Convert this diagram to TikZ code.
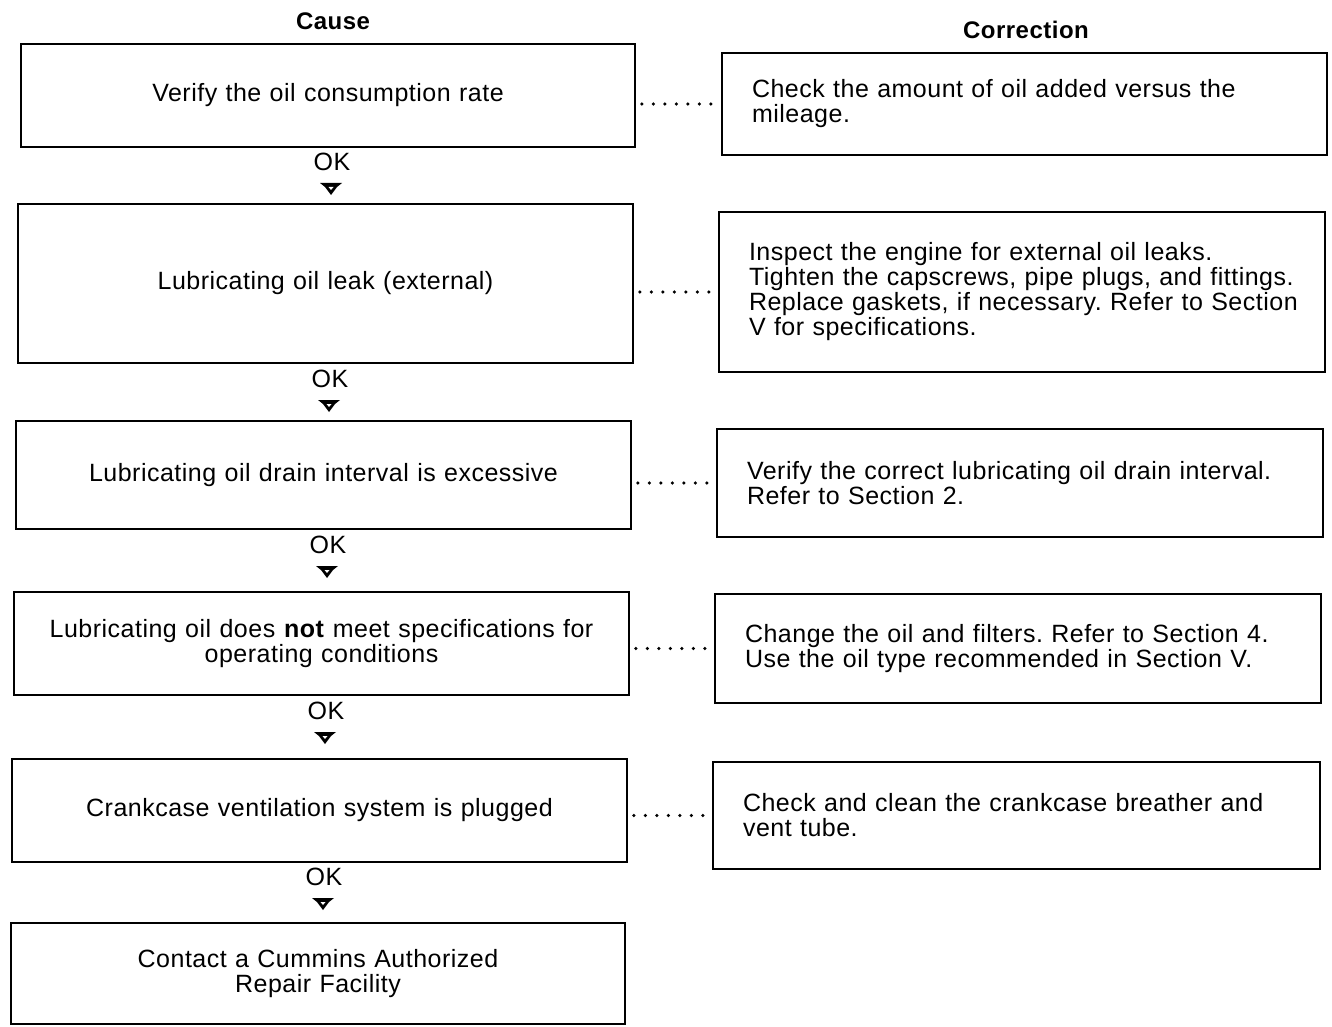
\documentclass[tikz,border=0pt]{standalone}
\usepackage{fontspec}
\setmainfont[LetterSpace=2]{Liberation Sans}
\frenchspacing
\hyphenpenalty=10000
\exhyphenpenalty=10000
\hbadness=10000
\hfuzz=20pt
\begin{document}
\begin{tikzpicture}[x=1pt,y=-1pt,
  font=\fontsize{25}{25}\selectfont,
  box/.style={draw, line width=1.6pt, inner sep=0pt},
  lbox/.style={box, align=center},
  rbox/.style={box, align=left, inner xsep=30pt},
  dots/.style={line width=3.6pt, dash pattern=on 0pt off 11.5pt, line cap=round, shorten <=6pt, shorten >=6pt},
  hdr/.style={font=\fontsize{24}{24}\selectfont\bfseries},
  tip/.style={fill=black}]
\useasboundingbox (0,0) rectangle (1332,1027);

\node[hdr] (cause) at (333,21) {Cause};
\node[hdr] (corr) at (1026,30) {Correction};

% left column
\node[lbox, text width=614pt, minimum height=103pt] (L1) at (328,95.5) {Verify the oil consumption rate};
\node[lbox, text width=615pt, minimum height=159pt] (L2) at (325.5,283.5) {Lubricating oil leak (external)};
\node[lbox, text width=615pt, minimum height=108pt] (L3) at (323.5,475) {Lubricating oil drain interval is excessive};
\node[lbox, text width=615pt, minimum height=103pt] (L4) at (321.5,643.5) {Lubricating oil does \textbf{not} meet specifications for\\operating conditions};
\node[lbox, text width=615pt, minimum height=103pt] (L5) at (319.5,810.5) {Crankcase ventilation system is plugged};
\node[lbox, text width=614pt, minimum height=101pt] (L6) at (318,973.5) {Contact a Cummins Authorized\\Repair Facility};

% right column
\node[rbox, text width=545pt, minimum height=102pt] (R1) at (1024.5,104) {Check the amount of oil added versus the\\mileage.};
\node[rbox, text width=546pt, minimum height=160pt] (R2) at (1022,292) {Inspect the engine for external oil leaks.\\\mbox{Tighten the capscrews, pipe plugs, and fittings.}\\\mbox{Replace gaskets, if necessary. Refer to Section}\\V for specifications.};
\node[rbox, text width=546pt, minimum height=108pt] (R3) at (1020,483) {\mbox{Verify the correct lubricating oil drain interval.}\\Refer to Section 2.};
\node[rbox, text width=546pt, minimum height=109pt] (R4) at (1018,648.5) {\mbox{Change the oil and filters. Refer to Section 4.}\\Use the oil type recommended in Section V.};
\node[rbox, text width=547pt, minimum height=107pt] (R5) at (1016.5,815.5) {Check and clean the crankcase breather and\\vent tube.};

% OK labels
\node (ok1) at (332,162) {OK};
\node (ok2) at (330,379) {OK};
\node (ok3) at (328,545) {OK};
\node (ok4) at (326,711) {OK};
\node (ok5) at (324,877) {OK};

% arrow tips
\coordinate (a1) at (331,188);
\coordinate (a2) at (329,405);
\coordinate (a3) at (327,571);
\coordinate (a4) at (325,737);
\coordinate (a5) at (323,903);
\foreach \a in {a1,a2,a3,a4,a5}{
  \fill[tip] ([shift={(-11,-5)}]\a) -- ([shift={(11,-5)}]\a) -- ([shift={(6,-1)}]\a) -- ([shift={(0,7)}]\a) -- ([shift={(-6,-1)}]\a) -- cycle;
  \fill[white] ([shift={(-2.5,-1)}]\a) -- ([shift={(2.5,-1)}]\a) -- ([shift={(0,2)}]\a) -- cycle;
}

% dotted connectors
\draw[dots] (L1.east |- R1.west) -- (R1.west);
\draw[dots] (L2.east |- R2.west) -- (R2.west);
\draw[dots] (L3.east |- R3.west) -- (R3.west);
\draw[dots] (L4.east |- R4.west) -- (R4.west);
\draw[dots] (L5.east |- R5.west) -- (R5.west);
\end{tikzpicture}
\end{document}
